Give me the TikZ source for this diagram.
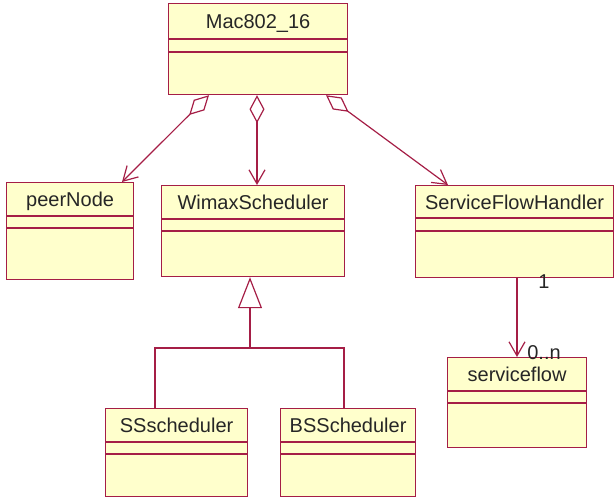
\documentclass[tikz,border=0pt]{standalone}
\usepackage{fontspec}
\setmainfont{Liberation Sans}
\usetikzlibrary{arrows.meta,calc}
\definecolor{umlred}{RGB}{165,30,70}
\definecolor{umlfill}{RGB}{255,255,204}
\tikzset{
  cls/.style={draw=umlred, fill=umlfill, line width=1.2pt, rectangle, inner sep=0pt, anchor=north west},
  divider/.style={draw=umlred, line width=1.2pt},
  lbl/.style={font=\fontsize{20}{24}\selectfont, text=black!85, inner sep=0pt, anchor=base},
  mult/.style={font=\fontsize{20}{24}\selectfont, text=black!85, inner sep=0pt},
  link/.style={draw=umlred, line width=1.2pt},
  agg/.style={link, {Diamond[open,length=28pt,width=15pt]}-{Straight Barb[length=14pt,width=16pt]}},
  gen/.style={link, -{Triangle[open,length=31pt,width=24pt]}},
  assoc/.style={link, -{Straight Barb[length=14pt,width=16pt]}},
}
\newcommand\umlclass[8]{% name,x,y,w,h,label,div1,div2
  \node[cls, minimum width=#4pt, minimum height=#5pt] (#1) at (#2,#3) {};
  \draw[divider] ($(#1.north west)+(0,#7)$) -- ($(#1.north east)+(0,#7)$);
  \draw[divider] ($(#1.north west)+(0,#8)$) -- ($(#1.north east)+(0,#8)$);
  \node[lbl] (#1-name) at ($(#1.north)+(0,#7/2+7.5)$) {#6};
}
\begin{document}
\begin{tikzpicture}[x=1pt,y=-1pt]
\useasboundingbox (0,0) rectangle (614,501);
\umlclass{mac}{168}{3}{179}{91}{Mac802\_16}{36}{49}
\umlclass{peer}{6}{182}{127}{97}{peerNode}{34}{46}
\umlclass{wimax}{161}{185}{183}{91}{WimaxScheduler}{34}{46}
\umlclass{sfh}{415}{185}{198}{92}{ServiceFlowHandler}{33}{46}
\umlclass{sf}{447}{357}{139}{90}{serviceflow}{34}{46}
\umlclass{ss}{105}{408}{142}{88}{SSscheduler}{34}{46}
\umlclass{bs}{280}{408}{135}{88}{BSScheduler}{34}{46}
% aggregations
\coordinate (m1) at ($(mac.south west)+(41,0)$);
\coordinate (m2) at ($(mac.south west)+(89,0)$);
\coordinate (m3) at ($(mac.south west)+(158,0)$);
\draw[agg] (m1) -- ($(peer.north west)+(116,0)$);
\draw[agg] (m2) -- (m2 |- wimax.north);
\draw[agg] (m3) -- ($(sfh.north west)+(33,0)$);
% generalization
\coordinate (j) at (250,348);
\draw[link] ($(ss.north west)+(50,0)$) |- (j) -| ($(bs.north west)+(64,0)$);
\draw[gen] (j) -- (j |- wimax.south);
% association
\coordinate (a1) at ($(sfh.south west)+(102,0)$);
\draw[assoc] (a1) -- (a1 |- sf.north);
\node[mult] (m-one) at (544,282) {1};
\node[mult] (m-many) at (544,353) {0..n};
\end{tikzpicture}
\end{document}
